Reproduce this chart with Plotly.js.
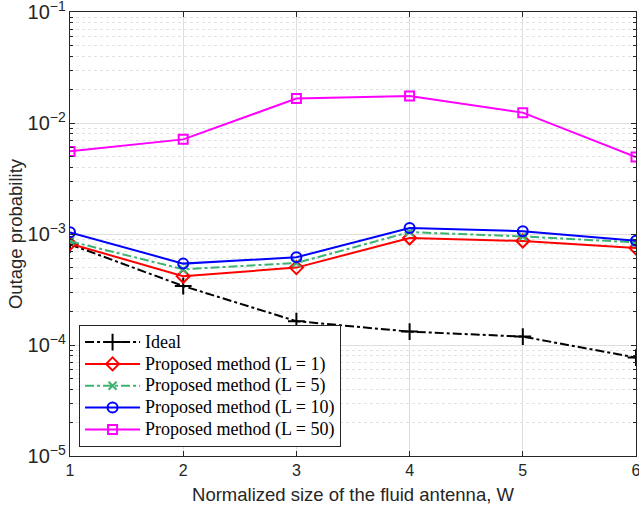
<!DOCTYPE html>
<html><head><meta charset="utf-8">
<script src="https://cdn.plot.ly/plotly-3.0.1.min.js"></script>
<style>body{margin:0;background:#fff}#c{width:639px;height:512px}</style>
</head><body><div id="c"></div>
<script>
var W = [1, 2, 3, 4, 5, 6];
var ideal = [8.07e-4, 3.40e-4, 1.64e-4, 1.32e-4, 1.19e-4, 7.7e-5];
var L1 = [8.19e-4, 4.16e-4, 4.98e-4, 9.2e-4, 8.65e-4, 7.48e-4];
var L5 = [8.6e-4, 4.81e-4, 5.48e-4, 1.04e-3, 9.5e-4, 8.4e-4];
var L10 = [1.035e-3, 5.41e-4, 6.17e-4, 1.13e-3, 1.06e-3, 8.7e-4];
var L50 = [5.55e-3, 7.12e-3, 1.66e-2, 1.75e-2, 1.24e-2, 4.94e-3];
var names = ['Ideal', 'Proposed method (L = 1)', 'Proposed method (L = 5)', 'Proposed method (L = 10)', 'Proposed method (L = 50)'];

function tr(y, name, color, dash, sym, msize) {
  return {x: W, y: y, name: '<span style="font-size:18px">' + name + '</span>',
    type: 'scatter', mode: 'lines+markers',
    line: {color: color, width: 2, dash: dash},
    marker: {symbol: sym, size: msize, color: color, line: {color: color, width: 2}}};
}
var data = [
  tr(ideal, names[0], '#000000', 'dashdot', 'cross-thin', 12),
  tr(L1, names[1], '#ff0000', 'solid', 'diamond-open', 10),
  tr(L5, names[2], '#3cb371', 'dashdot', 'x-thin', 8),
  tr(L10, names[3], '#0000ff', 'solid', 'circle-open', 10),
  tr(L50, names[4], '#ff00ff', 'solid', 'square-open', 9)
];
var layout = {
  width: 639, height: 512,
  margin: {l: 70, r: 3, t: 12, b: 56},
  paper_bgcolor: '#fff', plot_bgcolor: '#fff',
  font: {family: 'Liberation Sans, Arial, sans-serif', size: 16, color: '#262626'},
  xaxis: {range: [1, 6], dtick: 1, tick0: 1, showgrid: true, gridcolor: '#dedede', gridwidth: 1,
    zeroline: false, showline: true, linecolor: '#262626', linewidth: 1, mirror: 'ticks',
    ticks: 'inside', ticklen: 5, tickcolor: '#262626', ticklabeloverflow: 'allow',
    title: {text: 'Normalized size of the fluid antenna, W', font: {size: 18.5}, standoff: 9}},
  yaxis: {type: 'log', range: [-5, -1], dtick: 1, exponentformat: 'power', showexponent: 'all',
    showgrid: true, gridcolor: '#dedede', gridwidth: 1, ticklabeloverflow: 'allow',
    zeroline: false, showline: true, linecolor: '#262626', linewidth: 1, mirror: 'ticks',
    ticks: 'inside', ticklen: 5, tickcolor: '#262626',
    minor: {dtick: 'D1', showgrid: true, gridcolor: '#e2e2e2', griddash: 'dot', gridwidth: 1,
      ticks: 'inside', ticklen: 3, tickcolor: '#262626'},
    title: {text: 'Outage probability', font: {size: 18.5}, standoff: 0}},
  showlegend: true,
  legend: {x: 0.016, y: 0.02, xanchor: 'left', yanchor: 'bottom',
    bgcolor: '#fff', bordercolor: '#262626', borderwidth: 1,
    font: {family: 'Liberation Serif, Times New Roman, serif', size: 14.5, color: '#000'},
    tracegroupgap: 0, itemwidth: 55}
};
Plotly.newPlot('c', data, layout, {displayModeBar: false, staticPlot: true});
</script></body></html>
